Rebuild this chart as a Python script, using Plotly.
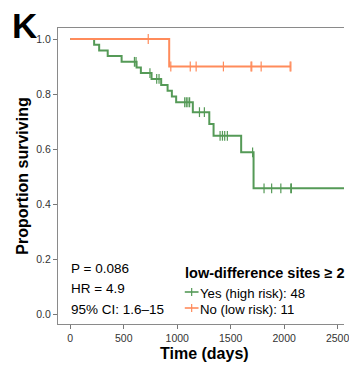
import numpy as np
import plotly.graph_objects as go

# ---------------- data ----------------
green_event_days = [0, 223, 270, 350, 480, 620, 660, 760, 850, 910, 950, 990, 1146, 1300, 1340, 1598, 1714]
green_surv = [1.0, 0.979, 0.958, 0.938, 0.917, 0.896, 0.876, 0.855, 0.833, 0.812, 0.791, 0.770, 0.734, 0.691, 0.648, 0.588, 0.457]
green_last_day = 2800
green_censor_days = [600, 615, 745, 808, 830, 1070, 1085, 1100, 1116, 1208, 1254,
                     1401, 1423, 1444, 1469, 1705, 1812, 1883, 1969, 2062, 2068]

orange_event_days = [0, 925]
orange_surv = [1.0, 0.9]
orange_last_day = 2063
orange_censor_days = [729, 940, 1122, 1177, 1432, 1690, 1697, 1785, 2056, 2063]

x_ticks = [0, 500, 1000, 1500, 2000, 2500]
y_ticks = [0.0, 0.2, 0.4, 0.6, 0.8, 1.0]

legend_title = "low-difference sites ≥ 2"
legend_labels = ["Yes (high risk): 48", "No (low risk): 11"]
stats_lines = ["P = 0.086", "HR = 4.9", "95% CI: 1.6–15"]

GREEN = "#559A57"
ORANGE = "#FF8B5B"
FONT = "Liberation Sans, Arial, Helvetica, sans-serif"

W, H = 349, 366
L, R, T, B = 58, 0, 28, 42


def step_xy(days, surv, last):
    return list(days) + [last], list(surv) + [surv[-1]]


def surv_at(days, surv, t):
    i = np.searchsorted(np.array(days), np.array(t), side="right") - 1
    return list(np.array(surv)[i])


fig = go.Figure()
for days, surv, last, cens, col in [
    (green_event_days, green_surv, green_last_day, green_censor_days, GREEN),
    (orange_event_days, orange_surv, orange_last_day, orange_censor_days, ORANGE),
]:
    sx, sy = step_xy(days, surv, last)
    fig.add_trace(go.Scatter(x=sx, y=sy, mode="lines", line=dict(color=col, width=2, shape="hv"),
                             showlegend=False, hoverinfo="skip"))
    fig.add_trace(go.Scatter(x=cens, y=surv_at(days, surv, cens), mode="markers",
                             marker=dict(symbol="line-ns", size=7, line=dict(color=col, width=1.2)),
                             showlegend=False, hoverinfo="skip"))

pw = W - L - R
ph = H - T - B


def px(xp):
    return (xp - L) / pw


def py(yp):
    return (H - B - yp) / ph


ann = []
shapes = []
# panel letter
ann.append(dict(text="<b>K</b>", x=px(10), y=py(26), xanchor="left", yanchor="middle",
                font=dict(size=35, color="black", family=FONT)))
# axis titles
ann.append(dict(text="<b>Proportion surviving</b>", x=px(21), y=py(176), textangle=-90,
                xanchor="center", yanchor="middle", font=dict(size=16, color="black", family=FONT)))
ann.append(dict(text="<b>Time (days)</b>", x=px(207), y=py(353), xanchor="center", yanchor="middle",
                font=dict(size=16, color="black", family=FONT)))
# stats
for txt, yc in zip(stats_lines, [268, 288.5, 309.5]):
    ann.append(dict(text=txt, x=px(70), y=py(yc), xanchor="left", yanchor="middle",
                    font=dict(size=13.5, color="black", family=FONT)))
# legend
ann.append(dict(text="<b>" + legend_title + "</b>", x=px(186), y=py(273), xanchor="left", yanchor="middle",
                font=dict(size=14.5, color="black", family=FONT)))
for txt, yc, col in zip(legend_labels, [293, 309], [GREEN, ORANGE]):
    ann.append(dict(text=txt, x=px(201), y=py(yc), xanchor="left", yanchor="middle",
                    font=dict(size=13.2, color="black", family=FONT)))
    shapes.append(dict(type="line", xref="paper", yref="paper", x0=px(187), x1=px(201),
                       y0=py(yc - 1), y1=py(yc - 1), line=dict(color=col, width=1.6)))
    shapes.append(dict(type="line", xref="paper", yref="paper", x0=px(194), x1=px(194),
                       y0=py(yc - 5), y1=py(yc + 3), line=dict(color=col, width=1.2)))

for a in ann:
    a.update(xref="paper", yref="paper", showarrow=False, borderpad=0)

x0 = (L - 70.5) / 0.1088
x1 = (W - R - 70.5) / 0.1088
fig.update_layout(
    width=W, height=H,
    margin=dict(l=L, r=R, t=T, b=B),
    paper_bgcolor="white", plot_bgcolor="white",
    annotations=ann, shapes=shapes,
    showlegend=False,
    font=dict(family=FONT),
    xaxis=dict(range=[x0, x1], tickvals=x_ticks, ticks="outside", ticklen=4, tickwidth=1,
               tickcolor="#777777", showline=True, linecolor="#8a8a8a", linewidth=1.2, mirror=True,
               ticklabeloverflow="allow",
               showgrid=False, zeroline=False, tickfont=dict(size=10.5, color="#333333", family=FONT)),
    yaxis=dict(range=[-(324 - 314) / 275, 1 + (39 - 28) / 275], tickvals=y_ticks, tickformat=".1f",
               ticks="outside", ticklen=4, tickwidth=1, tickcolor="#777777", showline=True,
               linecolor="#8a8a8a", linewidth=1.2, showgrid=False, zeroline=False,
               tickfont=dict(size=10.5, color="#333333", family=FONT)),
)

fig.write_html("out.html")
